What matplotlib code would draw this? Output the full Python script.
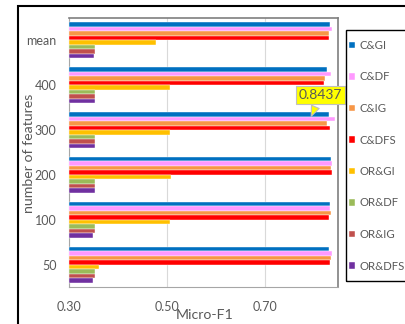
import numpy as np
import matplotlib.pyplot as plt
from matplotlib.patches import Rectangle

plt.rcParams['font.family'] = ['Lato', 'DejaVu Sans']

categories = ['50', '100', '200', '300', '400', 'mean']
series = ['C&GI', 'C&DF', 'C&IG', 'C&DFS', 'OR&GI', 'OR&DF', 'OR&IG', 'OR&DFS']
colors = ['#0070C0', '#FF99FF', '#F79646', '#FF0000',
          '#FFC000', '#9BBB59', '#C0504D', '#7030A0']

# values per series, in category order 50, 100, 200, 300, 400, mean
c_gi = [0.832, 0.834, 0.836, 0.831, 0.827, 0.833]
c_df = [0.837, 0.834, 0.838, 0.8437, 0.835, 0.837]
c_ig = [0.835, 0.835, 0.835, 0.828, 0.824, 0.832]
c_dfs = [0.834, 0.832, 0.837, 0.834, 0.822, 0.832]
or_gi = [0.362, 0.506, 0.508, 0.507, 0.507, 0.478]
or_df = [0.353, 0.353, 0.353, 0.353, 0.353, 0.354]
or_ig = [0.354, 0.354, 0.353, 0.353, 0.353, 0.354]
or_dfs = [0.350, 0.350, 0.353, 0.353, 0.353, 0.351]
values = [c_gi, c_df, c_ig, c_dfs, or_gi, or_df, or_ig, or_dfs]

grey = '#595959'
W, H = 406, 324
fig = plt.figure(figsize=(W/100, H/100), dpi=100)
ax = fig.add_axes([69/W, 1-287/H, (338-69)/W, (287-18)/H])

y = np.arange(len(categories))
h = 0.1
for i, (name, vals, c) in enumerate(zip(series, values, colors)):
    ax.barh(y + (3.5 - i)*h, np.array(vals) - 0.3, left=0.3, height=h,
            color=c, edgecolor='white', linewidth=0.3, label=name, zorder=3)

ax.set_xlim(0.3, 0.85)
ax.set_ylim(-0.5, 5.5)
ax.set_xticks([0.3, 0.5, 0.7])
ax.set_xticklabels(['0.30', '0.50', '0.70'])
ax.set_yticks(y)
ax.set_yticklabels(categories)
ax.tick_params(length=0, labelsize=9, colors=grey)
ax.tick_params(axis='x', pad=10)
ax.tick_params(axis='y', pad=9)
ax.grid(axis='x', color='#d9d9d9', linewidth=0.8, zorder=0)
for s in ['top', 'right']:
    ax.spines[s].set_color('#7f7f7f')
    ax.spines[s].set_linewidth(1.2)
for s in ['left', 'bottom']:
    ax.spines[s].set_color('#a6a6a6')
    ax.spines[s].set_linewidth(0.8)

ax.annotate('0.8437', xy=(0.793, 3.25), xytext=(0.814, 3.78),
            ha='center', va='center', fontsize=10, color=grey, zorder=5,
            bbox=dict(boxstyle='square,pad=0.2', fc='#FFFF00', ec='#bfbfbf', lw=0.8),
            arrowprops=dict(arrowstyle='wedge,tail_width=0.6', fc='#FFFF00',
                            ec='#bfbfbf', lw=0.8))

fig.text(205/W, 1-315/H, 'Micro-F1', ha='center', va='center',
         fontsize=10.2, color=grey)
fig.text(29/W, 1-153/H, 'number of features', ha='center', va='center',
         rotation=90, fontsize=10.2, color=grey)

# legend without its own frame, the box is drawn separately
leg = fig.legend(loc='upper left', bbox_to_anchor=(349/W, 1-40/H),
                 fontsize=8.2, labelspacing=1.8, handlelength=0.55,
                 handleheight=0.55, handletextpad=0.4, borderpad=0,
                 borderaxespad=0, frameon=False)
for t in leg.get_texts():
    t.set_color(grey)
fig.patches.append(Rectangle((346/W, 1-281/H), 70/W, 251/H,
                             transform=fig.transFigure, fill=False,
                             ec='black', lw=1.0))

fig.patches.append(Rectangle((17.5/W, -0.1), 1.2, 1.1 - 6/H,
                             transform=fig.transFigure, fill=False,
                             ec='black', lw=1.5))

plt.savefig('out.png', dpi=100)
